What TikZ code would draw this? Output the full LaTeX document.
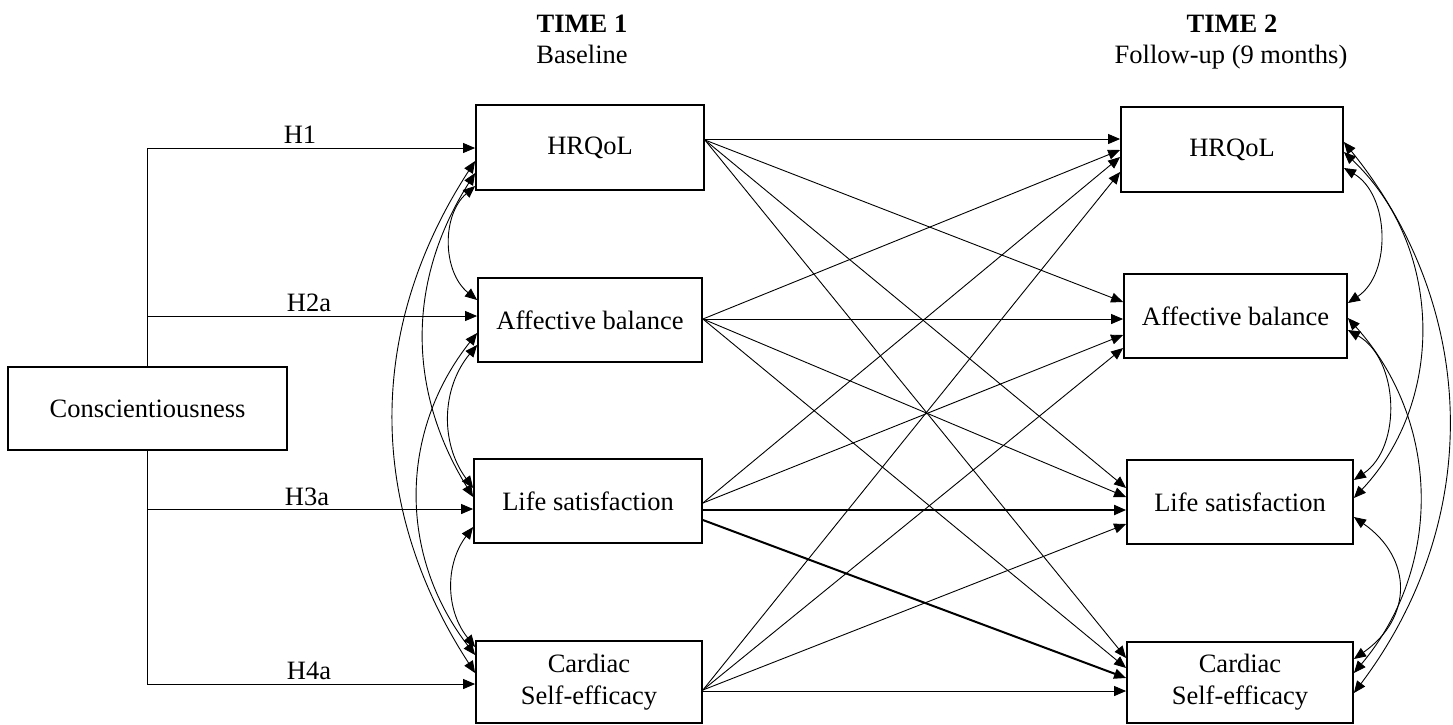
\documentclass[tikz,border=0pt]{standalone}
\usepackage{fontspec}
\setmainfont{Liberation Serif}
\usetikzlibrary{arrows.meta}
\newcommand{\dfont}{\fontsize{26.5}{32}\selectfont}
\begin{document}
\begin{tikzpicture}[x=1pt,y=-1pt,
  font=\dfont,
  box/.style={draw, line width=1.8pt, inner sep=0pt, align=center, fill=white},
  lbl/.style={anchor=base, inner sep=0pt},
  arr/.style={line width=0.9pt, -{Triangle[length=12pt,width=10pt]}},
  heavy/.style={line width=2pt, -{Triangle[length=12pt,width=10pt]}},
  cov/.style={line width=0.9pt, {Triangle[length=12pt,width=10pt]}-{Triangle[length=12pt,width=10pt]}}
]
\useasboundingbox (0,0) rectangle (1453,724);

% headers
\node[lbl, font=\dfont\bfseries] (t1) at (582,32) {TIME 1};
\node[lbl] (b1) at (582,63) {Baseline};
\node[lbl, font=\dfont\bfseries] (t2) at (1232,32) {TIME 2};
\node[lbl] (b2) at (1231,63) {Follow-up (9 months)};

% boxes
\node[box, minimum width=279pt, minimum height=83pt] (con) at (147.5,408.5) {Conscientiousness};
\node[box, minimum width=228pt, minimum height=85pt] (hr1) at (590,147.5) {HRQoL};
\node[box, minimum width=224pt, minimum height=84pt] (ab1) at (590,320) {Affective balance};
\node[box, minimum width=228pt, minimum height=84pt] (ls1) at (588,501) {Life satisfaction};
\node[box, minimum width=226pt, minimum height=82pt] (cs1) at (589,682) {Cardiac\\Self-efficacy};
\node[box, minimum width=222pt, minimum height=85pt] (hr2) at (1232,149.5) {HRQoL};
\node[box, minimum width=223pt, minimum height=84pt] (ab2) at (1235.5,316) {Affective balance};
\node[box, minimum width=226pt, minimum height=84pt] (ls2) at (1240,502) {Life satisfaction};
\node[box, minimum width=226pt, minimum height=81pt] (cs2) at (1240,682.5) {Cardiac\\Self-efficacy};

% hypotheses
\draw[arr] (con.north) |- (hr1.west |- 0,148);
\draw[arr] (con.north) |- (ab1.west |- 0,316);
\draw[arr] (con.south) |- (ls1.west |- 0,509);
\draw[arr] (con.south) |- (cs1.west |- 0,684);
\node[lbl] (h1) at (300,143) {H1};
\node[lbl] (h2) at (309,311) {H2a};
\node[lbl] (h3) at (307,505) {H3a};
\node[lbl] (h4) at (309,679) {H4a};

% cross-lagged paths
\draw[arr] (hr1.east |- 0,139) -- (hr2.west |- 0,139);
\draw[arr] (hr1.east |- 0,140) -- (ab2.west |- 0,302);
\draw[arr] (hr1.east |- 0,140) -- (ls2.west |- 0,488);
\draw[arr] (hr1.east |- 0,140) -- (cs2.west |- 0,658);
\draw[arr] (ab1.east |- 0,319) -- (hr2.west |- 0,150);
\draw[arr] (ab1.east |- 0,319) -- (ab2.west |- 0,319);
\draw[arr] (ab1.east |- 0,319) -- (ls2.west |- 0,497);
\draw[arr] (ab1.east |- 0,319) -- (cs2.west |- 0,668);
\draw[arr] (ls1.east |- 0,503) -- (hr2.west |- 0,157);
\draw[arr] (ls1.east |- 0,503) -- (ab2.west |- 0,335);
\draw[heavy] (ls1.east |- 0,510) -- (ls2.west |- 0,510);
\draw[heavy] (ls1.east |- 0,520) -- (cs2.west |- 0,678);
\draw[arr] (cs1.east |- 0,690) -- (hr2.west |- 0,172);
\draw[arr] (cs1.east |- 0,690) -- (ab2.west |- 0,348);
\draw[arr] (cs1.east |- 0,690) -- (ls2.west |- 0,524);
\draw[arr] (cs1.east |- 0,691) -- (cs2.west |- 0,691);

% covariances time 1
\draw[cov] (hr1.west |- 0,186) to[bend right=50] (ab1.west |- 0,300);
\draw[cov] (ab1.west |- 0,345) to[bend right=38] (ls1.west |- 0,488);
\draw[cov] (ls1.west |- 0,527) to[bend right=38] (cs1.west |- 0,647);
\draw[cov] (hr1.west |- 0,173) to[bend right=32] (ls1.west |- 0,497);
\draw[cov] (ab1.west |- 0,333) to[bend right=38] (cs1.west |- 0,655);
\draw[cov] (hr1.west |- 0,161) to[bend right=33] (cs1.west |- 0,673);

% covariances time 2
\draw[cov] (hr2.east |- 0,168) to[bend left=58] (ab2.east |- 0,303);
\draw[cov] (ab2.east |- 0,330) to[bend left=58] (ls2.east |- 0,480);
\draw[cov] (ls2.east |- 0,517) to[bend left=55, looseness=1.3] (cs2.east |- 0,659);
\draw[cov] (hr2.east |- 0,152) to[bend left=45] (ls2.east |- 0,498);
\draw[cov] (ab2.east |- 0,318) to[bend left=41] (cs2.east |- 0,673);
\draw[cov] (hr2.east |- 0,142) to[bend left=38] (cs2.east |- 0,693);
\end{tikzpicture}
\end{document}
